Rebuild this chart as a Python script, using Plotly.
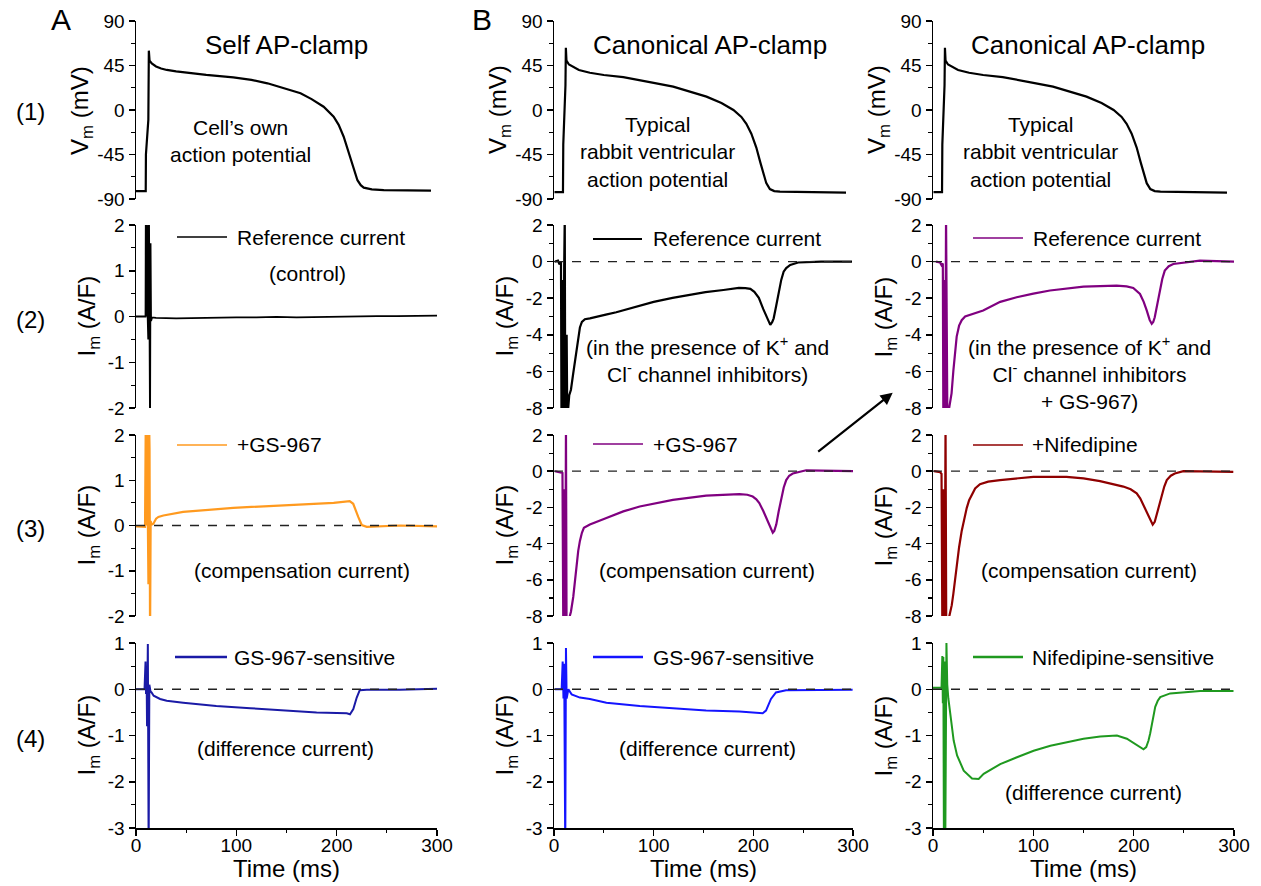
import plotly.graph_objects as go

W, H = 1261, 886
FONT = "Liberation Sans, Arial, sans-serif"

# ---------------- data ----------------
# Row 1 : membrane potential (mV)
ap_self_t = [0, 9.7, 9.9, 12.3, 12.8, 13.5, 15.7, 20, 25, 30.7, 40, 50.7, 70, 97, 115, 131, 150, 164, 175, 187, 197, 202, 207, 210.5, 214, 217.5, 220.7, 224, 227, 235, 247, 294]
ap_self_v = [-82, -82, -45, -10, 60, 50, 47, 44, 42, 40.5, 39, 37.7, 35.5, 33, 30.5, 27, 21.5, 17, 11, 3.3, -6.7, -15, -27, -38, -50.5, -62, -71, -76, -78.5, -80.3, -81, -81.6]

ap_canon_t = [0.5, 9.0, 9.3, 11.5, 11.9, 12.5, 15, 19.3, 25, 36, 50, 69.5, 83, 100, 119.6, 136, 153, 168, 180, 188, 193, 198, 203, 207, 210, 213, 216.6, 221, 226.7, 250, 293]
ap_canon_v = [-83, -83, -35, 25, 63, 50, 46, 43.8, 40.5, 37.7, 35.4, 33.2, 30.4, 27.5, 23.6, 19, 13.5, 7, 0, -7, -14, -24, -38, -53, -65, -74, -80, -82, -82.6, -82.8, -83.5]

# Column A (self AP-clamp) currents (A/F)
refA_t = [0, 9.5, 9.8, 10.3, 10.8, 11.5, 12.2, 12.9, 13.6, 14.0, 14.5, 15.0, 16, 20, 40, 60, 80, 100, 120, 140, 160, 180, 200, 220, 240, 260, 280, 300]
refA_v = [0, 0, 2.5, 0.0, 2.5, 0.1, -0.5, 2.5, -0.3, -2.5, 1.6, -0.1, -0.02, -0.03, -0.04, -0.03, -0.03, -0.02, -0.02, -0.01, -0.02, -0.01, 0, 0, 0.01, 0.01, 0.02, 0.02]

gsA_t = [0, 9.0, 9.8, 10.3, 10.8, 11.6, 12.4, 12.9, 13.5, 14.0, 14.6, 15.5, 17.3, 20, 22.3, 27.3, 47, 97, 147, 197, 213, 216.5, 221.5, 225, 230, 263, 300]
gsA_v = [-0.02, -0.03, 2.5, 0.0, 2.5, -0.2, -1.3, 2.5, 1.7, -2.5, 0.1, 0.02, 0.04, 0.15, 0.19, 0.22, 0.30, 0.39, 0.44, 0.50, 0.54, 0.48, 0.19, 0.01, -0.03, 0.0, -0.02]

diffA_t = [0, 8.5, 9.5, 10.0, 10.5, 11.0, 11.8, 12.6, 13.3, 14.5, 15.5, 17.6, 24, 30.6, 47, 80, 114, 147, 180, 210, 213.3, 216.6, 220, 223, 230, 263, 300]
diffA_v = [0, 0, 0.6, -0.1, 0.5, -0.8, 0.98, -3.5, 0.1, -0.05, -0.07, -0.14, -0.21, -0.25, -0.29, -0.36, -0.41, -0.46, -0.50, -0.52, -0.54, -0.43, -0.18, -0.02, -0.01, -0.01, 0.01]

# Column B (canonical AP-clamp, GS-967)
refB_t = [1, 4, 5.5, 7, 7.5, 8.2, 8.8, 9.6, 10.2, 10.8, 11.3, 12, 12.7, 13.3, 14, 15.3, 17, 19.3, 22.6, 26, 28, 31, 36, 42.6, 52, 62.5, 85.7, 100, 119, 152, 170, 185.5, 192, 197, 201, 205.5, 210, 213.7, 217, 219, 220.4, 223, 225.4, 228, 230.4, 233, 237, 245, 268, 299]
refB_v = [0, 0.05, -0.15, 0, -8.5, -1.0, -8.5, -8.5, -0.3, 2.5, -8.5, -8.5, -4.0, -8.5, -8.2, -7.3, -7.0, -6.1, -4.9, -3.6, -3.3, -3.15, -3.1, -3.0, -2.9, -2.77, -2.4, -2.2, -1.98, -1.67, -1.55, -1.44, -1.45, -1.49, -1.65, -1.98, -2.6, -3.1, -3.46, -3.3, -3.1, -2.4, -1.68, -1.0, -0.55, -0.35, -0.18, -0.05, 0, 0]

gsB_t = [1, 7, 8.5, 9.3, 10, 10.6, 11.3, 12, 12.6, 13.5, 14.3, 17, 19.3, 21, 22.6, 24.3, 26, 28, 30, 36, 52.6, 69.5, 86, 100, 119.3, 152.6, 186, 194, 199.4, 203, 206, 210, 214.5, 217, 219.5, 221, 223, 225.5, 228, 230.5, 233, 236, 239.6, 253, 300]
gsB_v = [0, -0.05, -0.1, -8.5, -1.0, -8.5, -8.5, 2.5, -8.5, -8.5, -8.3, -7.76, -6.95, -6.0, -5.1, -4.4, -3.85, -3.4, -3.13, -2.95, -2.58, -2.22, -1.95, -1.78, -1.58, -1.35, -1.27, -1.3, -1.4, -1.55, -1.76, -2.2, -2.76, -3.15, -3.4, -3.3, -2.95, -2.2, -1.49, -0.9, -0.49, -0.25, -0.13, 0.05, 0]

diffB_t = [1, 7.7, 8.7, 9.5, 10.2, 10.7, 11.3, 12, 12.7, 14.4, 17.7, 26, 36, 52.6, 86, 119.3, 152.6, 186, 209.4, 212.7, 217.7, 222.7, 232.8, 299.6]
diffB_v = [0, 0, 0.6, -0.2, 0.55, -0.9, -3.5, 0.89, -0.2, 0, -0.11, -0.18, -0.21, -0.29, -0.36, -0.41, -0.46, -0.48, -0.52, -0.46, -0.21, -0.07, -0.02, -0.01]

# Column C (canonical AP-clamp, nifedipine)
refC_t = [3, 7, 8.5, 9.8, 10.3, 11, 11.5, 12.2, 13, 13.6, 14.3, 15.5, 17, 18.5, 20.3, 22, 23.6, 26, 28.6, 32, 40, 50, 67, 83.4, 100, 116.6, 150, 183, 193, 199.6, 206.3, 210, 213, 216, 218, 219.5, 221, 223.5, 226, 228.5, 231, 235, 239.5, 249.6, 266, 300]
refC_v = [0, -0.05, -0.2, -0.1, -8.5, -8.5, -1.0, -8.5, 2.5, -8.5, -8.5, -8.2, -7.8, -7.2, -5.96, -5.0, -4.1, -3.5, -3.2, -3.0, -2.85, -2.67, -2.2, -1.95, -1.75, -1.58, -1.37, -1.31, -1.35, -1.44, -1.77, -2.2, -2.67, -3.2, -3.4, -3.3, -3.04, -2.3, -1.58, -0.95, -0.49, -0.25, -0.13, -0.05, 0.05, 0]

nifC_t = [1, 7, 8.5, 9.3, 10, 10.8, 11.6, 12.5, 13.2, 14.3, 15.5, 17, 18.7, 20.3, 22, 23.6, 26, 28.6, 31, 33.6, 36, 38.6, 42, 46.8, 55, 66.8, 100, 133, 150, 166.5, 180, 189.7, 197, 203, 206.5, 209.6, 213, 216.3, 219, 221, 223, 225.5, 228, 230.5, 233, 237, 241, 249.6, 299.3]
nifC_v = [0, -0.05, -0.15, -8.5, -1.0, -8.5, -8.5, 2.5, -8.5, -8.5, -8.2, -7.8, -7.4, -6.76, -6.0, -5.1, -4.2, -3.3, -2.6, -2.04, -1.6, -1.3, -0.95, -0.72, -0.58, -0.49, -0.31, -0.31, -0.4, -0.55, -0.7, -0.85, -1.0, -1.22, -1.5, -1.85, -2.25, -2.58, -2.95, -2.8, -2.4, -1.85, -1.31, -0.85, -0.49, -0.25, -0.13, 0, -0.04]

diffC_t = [0, 8.5, 9.3, 9.8, 10.3, 10.9, 11.6, 12.2, 13.4, 14.2, 15.3, 17.3, 20.6, 24, 30.6, 38.9, 45.5, 50.5, 67, 83.7, 100.3, 117, 133.5, 150, 166.7, 183.3, 193.2, 203.2, 207, 209.8, 212.5, 214.8, 216.5, 218.2, 219.8, 221.5, 224, 226.5, 236.4, 266.3, 299.5]
diffC_v = [0.03, 0.03, 0.72, -0.3, 0.7, -3.5, 0.6, -3.5, 1.0, 0.1, -0.2, -0.53, -1.11, -1.43, -1.76, -1.93, -1.94, -1.83, -1.62, -1.47, -1.33, -1.22, -1.14, -1.07, -1.02, -1.0, -1.07, -1.22, -1.27, -1.3, -1.25, -1.11, -0.95, -0.75, -0.55, -0.38, -0.25, -0.17, -0.09, -0.04, -0.04]

# tick labels
time_ticks = [0, 100, 200, 300]
time_labels = ["0", "100", "200", "300"]
vm_ticks = [-90, -45, 0, 45, 90]
vm_labels = ["-90", "-45", "0", "45", "90"]
i2_ticks = [-2, -1, 0, 1, 2]
i2_labels = ["-2", "-1", "0", "1", "2"]
i8_ticks = [-8, -6, -4, -2, 0, 2]
i8_labels = ["-8", "-6", "-4", "-2", "0", "2"]
i3_ticks = [-3, -2, -1, 0, 1]
i3_labels = ["-3", "-2", "-1", "0", "1"]

# ---------------- colours ----------------
BLACK = "#000000"
ORANGE = "#ff9a1f"
PURPLE = "#800080"
DARKRED = "#8f0000"
NAVY = "#1a1aa6"
BLUE = "#1414ff"
GREEN = "#1f991f"

# ---------------- layout geometry (pixels) ----------------
col_px = [(136, 437), (554, 853), (933, 1234)]
row_px = [(21, 199), (225, 408), (435, 616), (643, 828)]


def px_x(p):
    return p / W


def px_y(p):
    return 1 - p / H


# (row, col) -> (t, v, colour, width)
traces = {
    (0, 0): (ap_self_t, ap_self_v, BLACK, 2.2),
    (0, 1): (ap_canon_t, ap_canon_v, BLACK, 2.2),
    (0, 2): (ap_canon_t, ap_canon_v, BLACK, 2.2),
    (1, 0): (refA_t, refA_v, BLACK, 1.8),
    (1, 1): (refB_t, refB_v, BLACK, 2.2),
    (1, 2): (refC_t, refC_v, PURPLE, 2.2),
    (2, 0): (gsA_t, gsA_v, ORANGE, 2.2),
    (2, 1): (gsB_t, gsB_v, PURPLE, 2.2),
    (2, 2): (nifC_t, nifC_v, DARKRED, 2.2),
    (3, 0): (diffA_t, diffA_v, NAVY, 2.0),
    (3, 1): (diffB_t, diffB_v, BLUE, 2.0),
    (3, 2): (diffC_t, diffC_v, GREEN, 2.0),
}

yspec = {
    (0, 0): (vm_ticks, vm_labels, 22.5), (0, 1): (vm_ticks, vm_labels, 22.5), (0, 2): (vm_ticks, vm_labels, 22.5),
    (1, 0): (i2_ticks, i2_labels, 0.5), (1, 1): (i8_ticks, i8_labels, 1), (1, 2): (i8_ticks, i8_labels, 1),
    (2, 0): (i2_ticks, i2_labels, 0.5), (2, 1): (i8_ticks, i8_labels, 1), (2, 2): (i8_ticks, i8_labels, 1),
    (3, 0): (i3_ticks, i3_labels, 0.5), (3, 1): (i3_ticks, i3_labels, 0.5), (3, 2): (i3_ticks, i3_labels, 0.5),
}

fig = go.Figure()
layout = dict(
    width=W, height=H,
    margin=dict(l=0, r=0, t=0, b=0, autoexpand=False),
    paper_bgcolor="white", plot_bgcolor="white",
    font=dict(family=FONT, color="black", size=19),
    showlegend=False,
)

shapes = []
annotations = []

for (r, c), (t, v, colr, lw) in traces.items():
    k = r * 3 + c + 1
    xs = "x" if k == 1 else f"x{k}"
    ys = "y" if k == 1 else f"y{k}"
    fig.add_trace(go.Scatter(x=t, y=v, mode="lines", line=dict(color=colr, width=lw),
                             xaxis=xs, yaxis=ys, hoverinfo="skip"))
    tv, tl, mdt = yspec[(r, c)]
    x0, x1 = col_px[c]
    y0, y1 = row_px[r]
    xa = dict(domain=[px_x(x0), px_x(x1)], range=[0, 300], anchor=ys, automargin=False,
              showgrid=False, zeroline=False, fixedrange=True)
    if r < 3:
        xa.update(visible=False)
    else:
        xa.update(showline=True, linecolor="black", linewidth=1.5, ticks="outside",
                  ticklen=6, tickwidth=1.5, tickcolor="black",
                  tickmode="array", tickvals=time_ticks, ticktext=time_labels,
                  tickfont=dict(size=19), ticklabelstandoff=-6,
                  minor=dict(ticks="outside", ticklen=3.5, tickwidth=1.2, tickcolor="black",
                             tickmode="linear", tick0=0, dtick=50))
    ya = dict(domain=[px_y(y1), px_y(y0)], range=[tv[0], tv[-1]], anchor=xs, automargin=False,
              showgrid=False, zeroline=False, fixedrange=True,
              showline=True, linecolor="black", linewidth=1.5, ticks="outside",
              ticklen=6, tickwidth=1.5, tickcolor="black",
              tickmode="array", tickvals=tv, ticktext=tl, tickfont=dict(size=19),
              minor=dict(ticks="outside", ticklen=3.5, tickwidth=1.2, tickcolor="black",
                         tickmode="linear", tick0=0, dtick=mdt))
    layout["xaxis" if k == 1 else f"xaxis{k}"] = xa
    layout["yaxis" if k == 1 else f"yaxis{k}"] = ya

    # dashed zero reference
    if r >= 1 and not (r == 1 and c == 0):
        shapes.append(dict(type="line", xref=xs, yref=ys, x0=0, x1=300, y0=0, y1=0,
                           line=dict(color="#222222", width=1.3, dash="dash"), layer="above"))

    # axis titles
    title = "V<sub>m</sub> (mV)" if r == 0 else "I<sub>m</sub> (A/F)"
    off = 55 if r == 0 else 48
    annotations.append(dict(text=title, x=px_x(x0 - off), y=px_y((y0 + y1) / 2),
                            xref="paper", yref="paper", showarrow=False, textangle=-90,
                            xanchor="center", yanchor="middle", font=dict(size=24)))

# x-axis titles
for c in range(3):
    x0, x1 = col_px[c]
    annotations.append(dict(text="Time (ms)", x=px_x((x0 + x1) / 2), y=px_y(868),
                            xref="paper", yref="paper", showarrow=False,
                            xanchor="center", yanchor="middle", font=dict(size=24)))


def txt(s, x, y, size=21, anchor="center"):
    annotations.append(dict(text=s, x=px_x(x), y=px_y(y), xref="paper", yref="paper",
                            showarrow=False, xanchor=anchor, yanchor="middle",
                            font=dict(size=size)))


# panel letters and row labels
txt("A", 61, 20, size=30)
txt("B", 482, 20, size=30)
for lab, yy in [("(1)", 111), ("(2)", 319), ("(3)", 528), ("(4)", 738)]:
    txt(lab, 30, yy, size=24)

# panel titles
txt("Self AP-clamp", 286, 45, size=26)
txt("Canonical AP-clamp", 710, 45, size=26)
txt("Canonical AP-clamp", 1088, 45, size=26)

# row 1 notes
txt("Cell\u2019s own<br>action potential", 240, 141)
txt("Typical<br>rabbit ventricular<br>action potential", 657, 152)
txt("Typical<br>rabbit ventricular<br>action potential", 1040, 152)

# key entries: (x_start, x_end, y, colour, width, label, label_x)
keys = [
    (177, 227, 237, BLACK, 1.3, "Reference current", 235),
    (593, 642, 239, BLACK, 2.0, "Reference current", 651),
    (973, 1023, 238, PURPLE, 1.5, "Reference current", 1031),
    (177, 227, 445, ORANGE, 1.5, "+GS-967", 235),
    (593, 643, 444, PURPLE, 1.5, "+GS-967", 651),
    (973, 1023, 445, DARKRED, 1.5, "+Nifedipine", 1030),
    (175, 227, 657, NAVY, 2.5, "GS-967-sensitive", 232),
    (593, 643, 657, BLUE, 2.5, "GS-967-sensitive", 651),
    (973, 1023, 657, GREEN, 2.5, "Nifedipine-sensitive", 1030),
]
for xs_, xe_, yy, colr, lw, lab, lx in keys:
    shapes.append(dict(type="line", xref="paper", yref="paper", x0=px_x(xs_), x1=px_x(xe_),
                       y0=px_y(yy), y1=px_y(yy), line=dict(color=colr, width=lw)))
    txt(lab, lx, yy, anchor="left")

# descriptive notes
txt("(control)", 307, 273)
txt("(in the presence of K<sup>+</sup> and<br>Cl<sup>-</sup> channel inhibitors)", 707, 360)
txt("(in the presence of K<sup>+</sup> and<br>Cl<sup>-</sup> channel inhibitors<br>+ GS-967)", 1089, 373)
txt("(compensation current)", 302, 570)
txt("(compensation current)", 707, 570)
txt("(compensation current)", 1089, 570)
txt("(difference current)", 285, 748)
txt("(difference current)", 707, 748)
txt("(difference current)", 1093, 792)

# arrow from B(3) to C(2)
annotations.append(dict(text="", x=px_x(892.7), y=px_y(392.7), xref="paper", yref="paper",
                        ax=-76, ay=60, axref="pixel", ayref="pixel", showarrow=True,
                        arrowhead=2, arrowsize=1.1, arrowwidth=2.2, arrowcolor="black"))

layout["shapes"] = shapes
layout["annotations"] = annotations
fig.update_layout(**layout)

fig.write_html("out.html", config={"displayModeBar": False, "staticPlot": True},
               post_script="document.body.style.margin='0px';document.body.style.padding='0px';")
